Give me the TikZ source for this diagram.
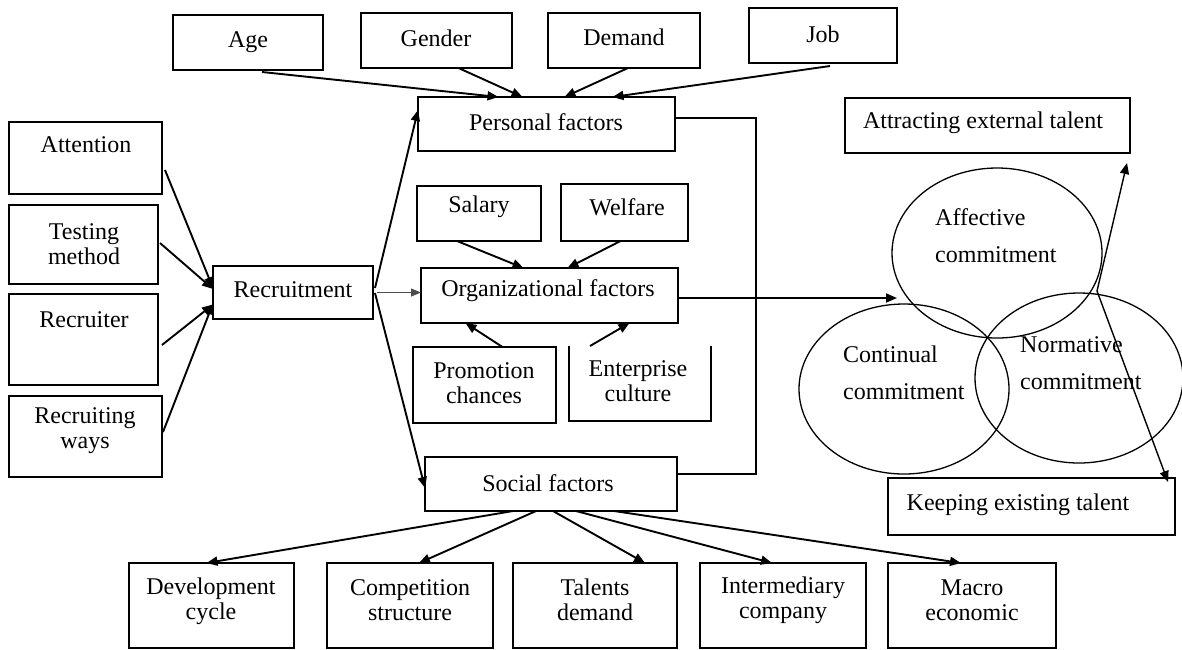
\documentclass[tikz,border=0pt]{standalone}
\usepackage{fontspec}
\setmainfont{Liberation Serif}
\usetikzlibrary{arrows.meta,shapes.geometric,fit}
\begin{document}
\begin{tikzpicture}[x=1pt,y=-1pt,
  box/.style={draw, line width=1.9pt, inner sep=0pt, outer sep=0pt},
  openbox/.style={inner sep=0pt, outer sep=0pt},
  txt/.style={inner sep=0pt, align=center, font=\fontsize{24}{25}\selectfont},
  etxt/.style={inner sep=0pt, align=left, anchor=west, font=\fontsize{24}{37}\selectfont},
  arr/.style={-{Triangle[length=11pt,width=9pt]}, line width=1.9pt},
  thinarr/.style={-{Triangle[length=10pt,width=8pt]}, line width=0.9pt, black!70},
  link/.style={line width=1.5pt},
  ell/.style={ellipse, draw, line width=1.3pt, inner sep=0pt, outer sep=0pt}]
\fill[white] (0,0) rectangle (1182,649);
\useasboundingbox (0,0) rectangle (1182,649);

% top row
\node[box, fit={(173,15)(323,70)}] (age) {};
\node[box, fit={(361,13)(512,68)}] (gender) {};
\node[box, fit={(548,13)(700,68)}] (demand) {};
\node[box, fit={(749,8)(897,63)}] (job) {};
\node[box, fit={(418,97)(675,151)}] (personal) {};
\node[txt] (tage) at (248,42) {Age};
\node[txt] (tgender) at (436,38) {Gender};
\node[txt] (tdemand) at (624,37) {Demand};
\node[txt] (tjob) at (823,34) {Job};
\node[txt] (tpersonal) at (546,122) {Personal factors};

% left column
\node[box, fit={(9,122)(162,194)}] (attention) {};
\node[box, fit={(9,205)(158,284)}] (testing) {};
\node[box, fit={(9,294)(158,385)}] (recruiter) {};
\node[box, fit={(9,396)(162,477)}] (ways) {};
\node[box, fit={(213,266)(373,319)}] (recruit) {};
\node[txt] (tattention) at (86,145) {Attention};
\node[txt] (ttesting) at (84,244) {Testing\\method};
\node[txt] (trecruiter) at (84,320) {Recruiter};
\node[txt] (tways) at (85,431) {Recruiting\\ways};
\node[txt] (trecruit) at (293,290) {Recruitment};

% organizational block
\node[box, fit={(417,186)(541,241)}] (salary) {};
\node[box, fit={(561,184)(688,241)}] (welfare) {};
\node[box, fit={(421,268)(678,323)}] (org) {};
\node[box, fit={(413,347)(556,423)}] (promo) {};
\node[openbox, fit={(569,346)(711,421)}] (enter) {};
\draw[line width=1.9pt] (enter.north west) -- (enter.south west) -- (enter.south east) -- (enter.north east);
\node[txt] (tsalary) at (479,207) {Salary};
\node[txt] (twelfare) at (627,207) {Welfare};
\node[txt] (torg) at (548,291) {Organizational factors};
\node[txt] (tpromo) at (484,383) {Promotion\\chances};
\node[txt] (tenter) at (638,381) {Enterprise\\culture};

% social block
\node[box, fit={(425,457)(677,511)}] (social) {};
\node[txt] (tsocial) at (548,483) {Social factors};
\node[box, fit={(129,563)(294,648)}] (dev) {};
\node[box, fit={(327,563)(493,648)}] (comp) {};
\node[box, fit={(513,563)(677,648)}] (talents) {};
\node[box, fit={(700,563)(866,648)}] (inter) {};
\node[box, fit={(888,563)(1056,648)}] (macro) {};
\node[txt] (tdev) at (211,601) {Development\\cycle};
\node[txt] (tcomp) at (410,600) {Competition\\structure};
\node[txt] (ttalents) at (595,600) {Talents\\demand};
\node[txt] (tinter) at (783,600) {Intermediary\\company};
\node[txt] (tmacro) at (972,600) {Macro\\economic};

% right side
\node[box, fit={(845,98)(1130,153)}] (attract) {};
\node[box, fit={(888,478)(1175,535)}] (keep) {};
\node[txt] (tattract) at (983,123) {Attracting external talent};
\node[txt] (tkeep) at (1018,505) {Keeping existing talent};
\node[ell, minimum width=210pt, minimum height=170pt] (affective) at (997,253) {};
\node[ell, minimum width=210pt, minimum height=170pt] (continual) at (904,389) {};
\node[ell, minimum width=208pt, minimum height=170pt] (normative) at (1079,378) {};
\node[etxt] (taff) at (935,236) {Affective\\commitment};
\node[etxt] (tcont) at (843,373) {Continual\\commitment};
\node[etxt] (tnorm) at (1020,363) {Normative\\commitment};
\coordinate (affin) at (897,298);
\coordinate (junction) at (1097,291);

% connectors: top row to personal
\draw[arr] ([xshift=14pt,yshift=-2pt]age.south) -- ([xshift=-48pt]personal.north);
\draw[arr] ([xshift=22pt]gender.south) -- ([xshift=-24pt]personal.north);
\draw[arr] ([xshift=4pt]demand.south) -- ([xshift=18pt]personal.north);
\draw[arr] ([xshift=7pt,yshift=-3pt]job.south) -- ([xshift=66pt]personal.north);

% left column to recruitment
\draw[arr] ([xshift=3pt,yshift=-12pt]attention.east) -- ([yshift=4.5pt]recruit.west);
\draw[arr] ([xshift=2pt,yshift=1.5pt]testing.east) -- ([yshift=3.5pt]recruit.west);
\draw[arr] ([xshift=4pt,yshift=-5.5pt]recruiter.east) -- ([yshift=-12pt]recruit.west);
\draw[arr] ([xshift=1pt,yshift=4.5pt]ways.east) -- ([yshift=-11pt]recruit.west);

% recruitment to factors
\draw[arr] ([xshift=2pt,yshift=4.5pt]recruit.east) -- ([yshift=14pt]personal.west);
\draw[thinarr] ([xshift=4pt]recruit.east) -- ([yshift=3pt]org.west);
\draw[arr] ([xshift=2pt,yshift=-0.5pt]recruit.east) -- ([yshift=-4pt]social.west);

% organizational sub-factors
\draw[arr] ([xshift=-22pt]salary.south) -- ([xshift=-26pt]org.north);
\draw[arr] ([xshift=-4pt]welfare.south) -- ([xshift=18pt]org.north);
\draw[arr] ([xshift=18pt]promo.north) -- ([xshift=-84pt]org.south);
\draw[arr] ([xshift=-50pt]enter.north) -- ([xshift=80pt]org.south);

% bracket and link to commitment
\coordinate (brtop) at (756,118);
\coordinate (brbot) at (756,474);
\draw[link] ([yshift=6pt]personal.east) -- (brtop) -- (brbot) -- ([yshift=10pt]social.east);
\draw[arr] ([yshift=-2.5pt]org.east) -- (affin);

% social to bottom row
\draw[arr] ([xshift=-38pt]social.south) -- ([xshift=-5pt]dev.north);
\draw[arr] ([xshift=-15pt]social.south) -- ([xshift=9pt]comp.north);
\draw[arr] ([xshift=2pt]social.south) -- ([xshift=50pt]talents.north);
\draw[arr] ([xshift=25pt]social.south) -- ([xshift=-11pt]inter.north);
\draw[arr] ([xshift=63pt]social.south) -- ([xshift=-11pt]macro.north);

% commitment outcomes
\draw[arr, line width=1.4pt] (junction) -- ([xshift=-3pt,yshift=-10pt]attract.south east);
\draw[arr, line width=1.4pt] (junction) -- ([xshift=-7pt,yshift=-4pt]keep.north east);
\end{tikzpicture}
\end{document}
